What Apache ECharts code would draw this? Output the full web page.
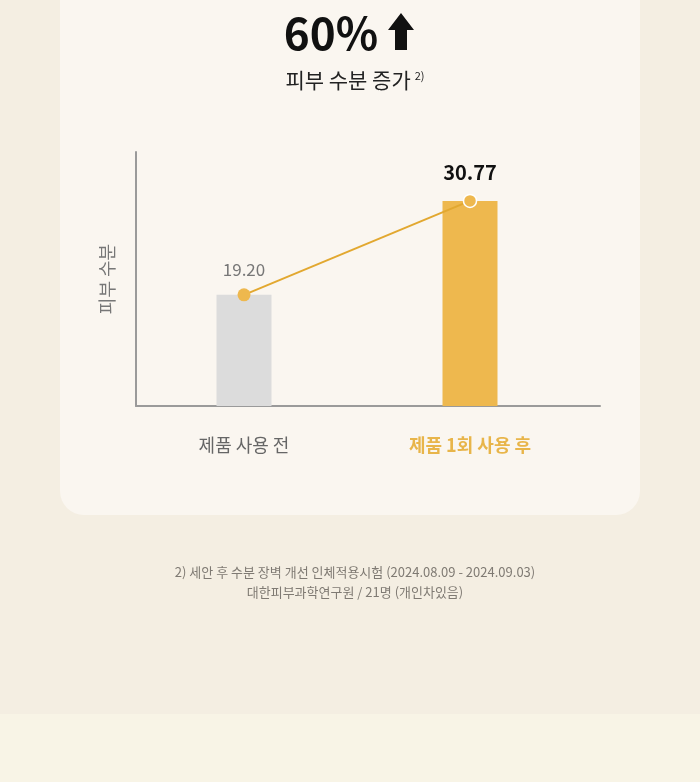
<!DOCTYPE html>
<html><head><meta charset="utf-8">
<script src="https://cdn.jsdelivr.net/npm/echarts@6/dist/echarts.min.js"></script>
<style>
html,body{margin:0;padding:0;width:700px;height:782px;background:#f4eee2;overflow:hidden;}
#bottom{position:absolute;left:0;top:714px;width:700px;height:68px;background:#f8f4e6;}
#card{position:absolute;left:60px;top:-40px;width:580px;height:555px;background:#faf6f0;border-radius:24px;}
#chart{position:absolute;left:0;top:0;width:700px;height:782px;}
</style></head>
<body>
<div id="bottom"></div><div id="card"></div><div id="chart"></div>
<script>
const categories = ['제품 사용 전', '제품 1회 사용 후'];
const values = [19.20, 30.77];
const headline = '60%';
const subtitle = '피부 수분 증가';
const yName = '피부 수분';
const footnotes = ['2) 세안 후 수분 장벽 개선 인체적용시험 (2024.08.09 - 2024.09.03)', '대한피부과학연구원 / 21명 (개인차있음)'];

const F = '"Noto Sans CJK KR", "Noto Sans", sans-serif';
const chart = echarts.init(document.getElementById('chart'), null, {renderer: 'canvas'});
chart.setOption({
  backgroundColor: 'transparent',
  textStyle: {fontFamily: F},
  title: [
    {text: headline, left: 326, top: 6, textAlign: 'center',
     textStyle: {fontFamily: F, fontSize: 44, fontWeight: 'bold', color: '#111'}},
    {text: '{a|' + subtitle + '} {s|2)}', left: 350, top: 65, textAlign: 'center',
     textStyle: {fontWeight: 'normal', rich: {
       a: {fontFamily: F, fontSize: 21, fontWeight: 'normal', color: '#222', verticalAlign: 'bottom'},
       s: {fontFamily: F, fontSize: 11, fontWeight: 'normal', color: '#222', verticalAlign: 'top', padding: [0,0,10,0]}}}},
    {text: footnotes.join('\n'), left: 350, top: 557, textAlign: 'center',
     textStyle: {fontFamily: F, fontSize: 13, color: '#7f7a73', lineHeight: 20, fontWeight: 'normal'}}
  ],
  graphic: [
    {type: 'polygon', shape: {points: [[401,13],[414,30],[407,30],[407,50],[395,50],[395,30],[388,30]]},
     style: {fill: '#111'}},
    {type: 'text', x: 107, y: 279, rotation: Math.PI/2,
     style: {text: yName, fontFamily: F, fontSize: 18, fill: '#777', align: 'center', verticalAlign: 'middle'}}
  ],
  grid: [
    {left: 131, right: 117, top: 152, bottom: 376},
    {left: 136, right: 100, top: 152, bottom: 376}
  ],
  xAxis: [
    {type: 'category', data: categories, gridIndex: 0,
     axisLine: {show: false}, axisTick: {show: false},
     axisLabel: {margin: 30, fontSize: 18, fontFamily: F,
       formatter: function(v, i){ return i === 1 ? '{b|' + v + '}' : '{n|' + v + '}'; },
       rich: {b: {fontSize: 18, fontWeight: 'bold', color: '#e8b54a', fontFamily: F},
              n: {fontSize: 18, color: '#666', fontFamily: F}}}},
    {type: 'category', data: categories, gridIndex: 1,
     axisLine: {show: true, lineStyle: {color: '#9a9a9a', width: 2}}, axisTick: {show: false}, axisLabel: {show: false}}
  ],
  yAxis: [
    {type: 'value', gridIndex: 0, min: 5.5, max: 36.8, show: false},
    {type: 'value', gridIndex: 1, min: 0, max: 1, splitLine: {show: false},
     axisLine: {show: true, lineStyle: {color: '#9a9a9a', width: 2}}, axisTick: {show: false}, axisLabel: {show: false}}
  ],
  series: [
    {type: 'bar', xAxisIndex: 0, yAxisIndex: 0, barWidth: 55, silent: true,
     data: values.map((v, i) => ({value: v, itemStyle: {color: i === 1 ? '#eeb84e' : '#dcdcdc'}}))},
    {type: 'line', xAxisIndex: 0, yAxisIndex: 0, silent: true,
     lineStyle: {color: '#e2a830', width: 2},
     symbol: 'circle',
     data: values.map((v, i) => ({value: v,
       symbolSize: 13,
       itemStyle: i === 1 ? {color: '#eeb84e', borderColor: '#fff', borderWidth: 1.5} : {color: '#eeb84e', borderWidth: 0},
       label: i === 1 ? {show: true, position: 'top', distance: 11, fontSize: 20, fontWeight: 'bold', color: '#111', fontFamily: F, formatter: v.toFixed(2)}
                      : {show: true, position: 'top', distance: 10, fontSize: 17, color: '#777', fontFamily: F, formatter: v.toFixed(2)}}))}
  ]
});
</script>
</body></html>
